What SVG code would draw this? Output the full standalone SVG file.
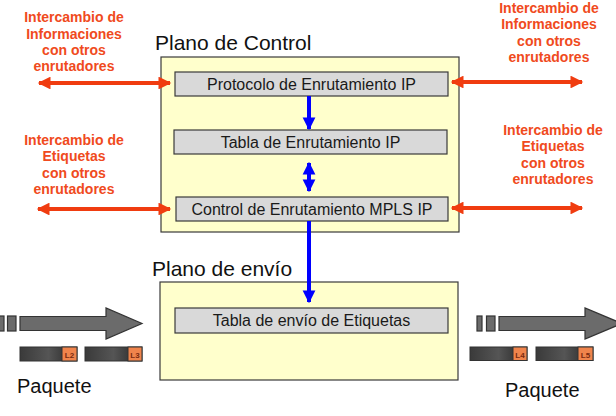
<svg xmlns="http://www.w3.org/2000/svg" width="616" height="416" viewBox="0 0 616 416">
<defs>
<style>
.plane{fill:#ffffcc;stroke:#3a3a3a;stroke-width:1.2}
.box{fill:#d9d9d9;stroke:#3a3a3a;stroke-width:1.2}
.bt{font-family:"Liberation Sans",Arial,sans-serif;font-size:16px;fill:#1a1a1a;text-anchor:middle}
.title{font-family:"Liberation Sans",Arial,sans-serif;font-size:21px;fill:#111}
.pq{font-family:"Liberation Sans",Arial,sans-serif;font-size:20px;fill:#111}
.ot{font-family:"Liberation Sans",Arial,sans-serif;font-size:14px;font-weight:bold;fill:#f04a20;text-anchor:middle}
.oa{stroke:#f03c10;stroke-width:4;fill:none}
.ba{stroke:#0000ff;stroke-width:4;fill:none}
.big{fill:#6b6b6b;stroke:#333;stroke-width:1.2}
.lab{stroke:#333;stroke-width:1}
.lt{font-family:"Liberation Sans",Arial,sans-serif;font-size:8px;font-weight:bold;fill:#7a2a10;text-anchor:middle}
</style>
<marker id="oh" viewBox="0 0 10 10" refX="9" refY="5" markerWidth="4" markerHeight="3.2" orient="auto-start-reverse" markerUnits="strokeWidth"><path d="M0,0 L10,5 L0,10 z" fill="#f03c10"/></marker>
<marker id="bh" viewBox="0 0 10 10" refX="9" refY="5" markerWidth="3.2" markerHeight="3.4" orient="auto-start-reverse" markerUnits="strokeWidth"><path d="M0,0 L10,5 L0,10 z" fill="#0000ff"/></marker>
<linearGradient id="lg" x1="0" x2="1" y1="0" y2="0"><stop offset="0" stop-color="#3a3a3a"/><stop offset="0.5" stop-color="#555"/><stop offset="1" stop-color="#222"/></linearGradient>
</defs>

<g id="plano-control">
<rect class="plane" x="161" y="57" width="298" height="175"/>
<text class="title" x="155" y="50">Plano de Control</text>
</g>
<g id="plano-envio">
<rect class="plane" x="160" y="282" width="298" height="98"/>
<text class="title" x="152" y="276">Plano de envío</text>
</g>

<g id="protocolo"><rect class="box" x="175" y="72" width="273" height="24"/><text class="bt" x="311.5" y="89.5">Protocolo de Enrutamiento IP</text></g>
<g id="tabla-ip"><rect class="box" x="174" y="130" width="273" height="24"/><text class="bt" x="310.5" y="147.5">Tabla de Enrutamiento IP</text></g>
<g id="control-mpls"><rect class="box" x="176" y="197" width="272" height="24"/><text class="bt" x="312" y="214.5">Control de Enrutamiento MPLS IP</text></g>
<g id="tabla-envio"><rect class="box" x="175" y="308" width="273" height="25"/><text class="bt" x="311.5" y="326">Tabla de envío de Etiquetas</text></g>

<g id="connectors">
<line class="ba" x1="309" y1="96" x2="309" y2="129" marker-end="url(#bh)"/>
<line class="ba" x1="309" y1="163" x2="309" y2="191" marker-start="url(#bh)" marker-end="url(#bh)"/>
<line class="ba" x1="309" y1="221" x2="309" y2="302" marker-end="url(#bh)"/>
<line class="oa" x1="39" y1="83" x2="170" y2="83" marker-start="url(#oh)" marker-end="url(#oh)"/>
<line class="oa" x1="38" y1="209" x2="170" y2="209" marker-start="url(#oh)" marker-end="url(#oh)"/>
<line class="oa" x1="452" y1="82" x2="582" y2="82" marker-start="url(#oh)" marker-end="url(#oh)"/>
<line class="oa" x1="452" y1="208" x2="582" y2="208" marker-start="url(#oh)" marker-end="url(#oh)"/>
</g>

<g id="label-info-left">
<text class="ot" x="74" y="22">Intercambio de</text>
<text class="ot" x="74" y="38.5">Informaciones</text>
<text class="ot" x="74" y="55">con otros</text>
<text class="ot" x="74" y="71">enrutadores</text>
</g>
<g id="label-etiq-left">
<text class="ot" x="74" y="145">Intercambio de</text>
<text class="ot" x="74" y="161">Etiquetas</text>
<text class="ot" x="74" y="178">con otros</text>
<text class="ot" x="74" y="194">enrutadores</text>
</g>
<g id="label-info-right">
<text class="ot" x="549" y="13">Intercambio de</text>
<text class="ot" x="549" y="29">Informaciones</text>
<text class="ot" x="549" y="46">con otros</text>
<text class="ot" x="549" y="62">enrutadores</text>
</g>
<g id="label-etiq-right">
<text class="ot" x="553" y="135">Intercambio de</text>
<text class="ot" x="553" y="151">Etiquetas</text>
<text class="ot" x="553" y="168">con otros</text>
<text class="ot" x="553" y="184">enrutadores</text>
</g>

<g id="paquete-izq">
<rect class="big" x="-3" y="316" width="7" height="15"/>
<rect class="big" x="7.5" y="316" width="8.5" height="15"/>
<path class="big" d="M20,316.5 H106 V308 L142,323.5 L106,339 V330.5 H20 Z"/>
<rect class="lab" x="20" y="347" width="57" height="14" fill="url(#lg)"/>
<rect class="lab" x="62" y="347" width="15" height="14" fill="#f0844c"/>
<text class="lt" x="69.5" y="357.5">L2</text>
<rect class="lab" x="85" y="347" width="57" height="14" fill="url(#lg)"/>
<rect class="lab" x="128" y="347" width="14" height="14" fill="#f0844c"/>
<text class="lt" x="135" y="357.5">L3</text>
<text class="pq" x="17" y="393">Paquete</text>
</g>
<g id="paquete-der">
<rect class="big" x="477" y="316" width="5" height="15"/>
<rect class="big" x="486.5" y="316" width="8.5" height="15"/>
<path class="big" d="M499,316.5 H585 V308 L622,323.5 L585,339 V330.5 H499 Z"/>
<rect class="lab" x="470" y="347" width="57" height="13.5" fill="url(#lg)"/>
<rect class="lab" x="513" y="347" width="14" height="13.5" fill="#f0844c"/>
<text class="lt" x="520" y="357.5">L4</text>
<rect class="lab" x="536" y="347" width="57" height="13.5" fill="url(#lg)"/>
<rect class="lab" x="578" y="347" width="15" height="13.5" fill="#f0844c"/>
<text class="lt" x="585.5" y="357.5">L5</text>
<text class="pq" x="505" y="397">Paquete</text>
</g>
</svg>
